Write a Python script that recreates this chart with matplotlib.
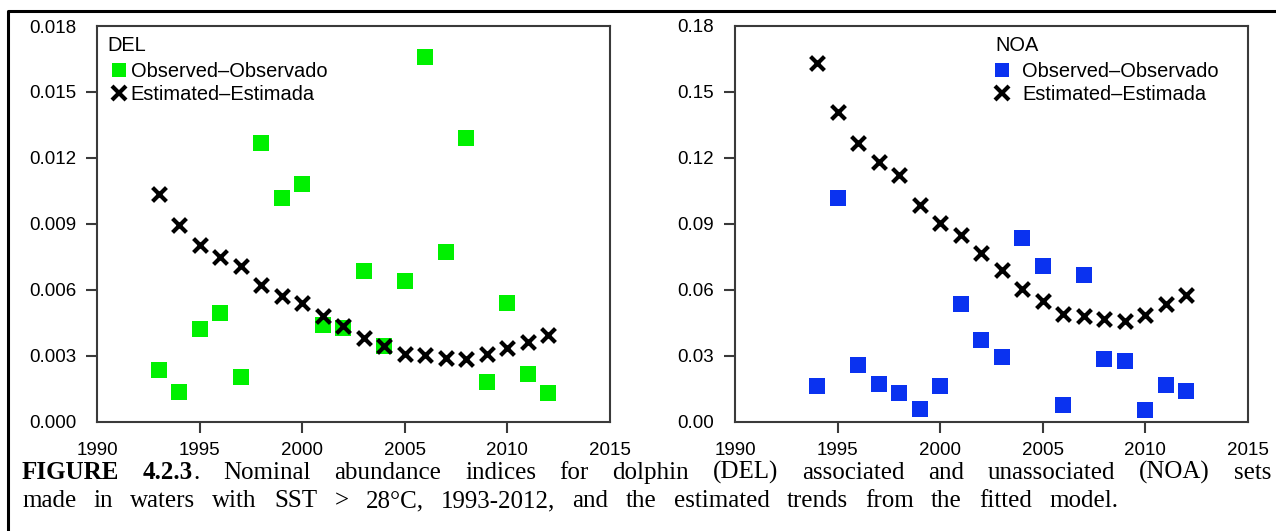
import matplotlib.pyplot as plt
import numpy as np
from matplotlib.lines import Line2D

# data
years_del = np.arange(1993, 2013)
del_obs = [0.00236, 0.00138, 0.00424, 0.00496, 0.00206, 0.01268, 0.01017, 0.01083, 0.00443, 0.00428,
           0.00688, 0.00345, 0.00640, 0.01661, 0.00773, 0.01293, 0.00182, 0.00539, 0.00216, 0.00133]
del_est = [0.01038, 0.00894, 0.00803, 0.00750, 0.00711, 0.00625, 0.00572, 0.00542, 0.00484, 0.00436,
           0.00383, 0.00345, 0.00310, 0.00303, 0.00292, 0.00287, 0.00307, 0.00337, 0.00365, 0.00395]

years_noa = np.arange(1994, 2013)
noa_obs = [0.0165, 0.1020, 0.0259, 0.0172, 0.0131, 0.0058, 0.0164, 0.0538, 0.0375, 0.0297,
           0.0838, 0.0710, 0.0076, 0.0667, 0.0286, 0.0276, 0.0053, 0.0169, 0.0139]
noa_est = [0.1634, 0.1409, 0.1266, 0.1182, 0.1121, 0.0987, 0.0903, 0.0850, 0.0766, 0.0690,
           0.0606, 0.0548, 0.0492, 0.0484, 0.0466, 0.0457, 0.0487, 0.0538, 0.0579]

xticks = [1990, 1995, 2000, 2005, 2010, 2015]
del_yticks = [0.0, 0.003, 0.006, 0.009, 0.012, 0.015, 0.018]
noa_yticks = [0.0, 0.03, 0.06, 0.09, 0.12, 0.15, 0.18]

GREEN = "#00f000"
BLUE = "#0a32f0"
SPINE = "#3a3a3a"

plt.rcParams['font.family'] = ['Liberation Sans', 'DejaVu Sans']

W, H = 1276, 531
fig = plt.figure(figsize=(W / 100, H / 100), dpi=100)


def make_panel(rect, years, obs, est, color, yticks, fmt, name, leg_x, hlen, textpad):
    ax = fig.add_axes(rect)
    ax.scatter(years, obs, marker='s', s=120, color=color, linewidths=0, zorder=2)
    ax.scatter(years, est, marker='x', s=100, color='black', linewidths=3.0, zorder=3)
    ax.set_xlim(1990, 2015)
    ax.set_ylim(yticks[0], yticks[-1])
    ax.set_xticks(xticks)
    ax.set_yticks(yticks)
    ax.set_yticklabels([fmt % v for v in yticks])
    for s in ax.spines.values():
        s.set_color(SPINE)
        s.set_linewidth(1.5)
    ax.tick_params(direction='out', length=8, width=1.5, color=SPINE, labelsize=13.5,
                   labelcolor='black')
    ax.tick_params(axis='x', pad=6.5)
    ax.tick_params(axis='y', pad=7)
    # no tick marks at the corners
    for t in ax.xaxis.get_major_ticks()[::len(xticks) - 1]:
        t.tick1line.set_visible(False)
    for t in ax.yaxis.get_major_ticks()[::len(yticks) - 1]:
        t.tick1line.set_visible(False)

    ax.text(leg_x, 0.937, name, transform=ax.transAxes, fontsize=14.4, va='baseline')
    handles = [Line2D([], [], marker='s', color=color, linestyle='', markersize=10.5,
                      markeredgewidth=0),
               Line2D([], [], marker='x', color='black', linestyle='', markersize=9.5,
                      markeredgewidth=3.0)]
    ax.legend(handles, ['Observed\u2013Observado', 'Estimated\u2013Estimada'],
              loc='upper left', bbox_to_anchor=(leg_x, 0.91),
              frameon=False, fontsize=14.4, handlelength=hlen, handletextpad=textpad,
              labelspacing=0.24, borderpad=0, borderaxespad=0)
    return ax


ax1 = make_panel([97 / W, 1 - 422 / H, 513 / W, 396 / H], years_del, del_obs, del_est, GREEN,
                 del_yticks, '%.3f', 'DEL', 0.021, 1.1, 0.05)
ax2 = make_panel([735 / W, 1 - 422 / H, 513 / W, 396 / H], years_noa, noa_obs, noa_est, BLUE,
                 noa_yticks, '%.2f', 'NOA', 0.507, 0.7, 0.65)

# figure frame (top and left edges)
fig.add_artist(Line2D([8 / W, 8 / W, 1.0], [0.0, 1 - 11 / H, 1 - 11 / H],
                      color='black', linewidth=2.2, transform=fig.transFigure))

# caption: the source type is stretched sideways, so words are spread to the original extents
serif = ['Liberation Serif', 'DejaVu Serif']
cap_size = 18
line1 = [[("FIGURE", 'bold')], [("4.2.3", 'bold'), (".", 'normal')]] + \
        [[(w, 'normal')] for w in
         "Nominal abundance indices for dolphin (DEL) associated and unassociated (NOA) sets".split()]
line2 = [[(w, 'normal')] for w in
         "made in waters with SST > 28\u00b0C, 1993-2012, and the estimated trends from the fitted model.".split()]

renderer = fig.canvas.get_renderer()


def spread(line, y, x0, x1):
    words = []
    total = 0.0
    for word in line:
        parts = []
        for txt, wt in word:
            t = fig.text(0, y, txt, family=serif, fontsize=cap_size, weight=wt, va='baseline')
            w = t.get_window_extent(renderer).width / W
            parts.append((t, w))
            total += w
        words.append(parts)
    gap = (x1 - x0 - total) / (len(words) - 1)
    x = x0
    for parts in words:
        for t, w in parts:
            t.set_x(x)
            x += w
        x += gap


spread(line1, 1 - 479 / H, 22 / W, 1271 / W)
spread(line2, 1 - 507 / H, 22 / W, 1118 / W)

fig.savefig('out.png', dpi=100)
